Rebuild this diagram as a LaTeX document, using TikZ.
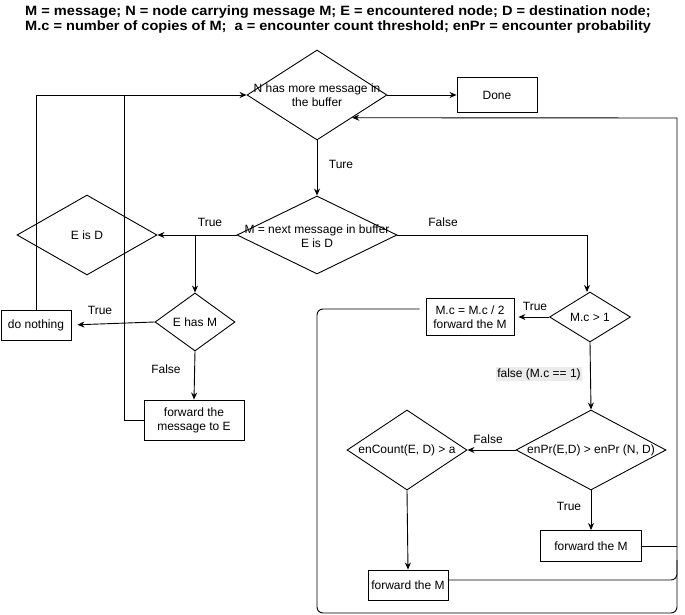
\documentclass[tikz,border=0pt]{standalone}
\usepackage{fontspec}
\setmainfont{Liberation Sans}
\usetikzlibrary{shapes.geometric,arrows.meta}
\begin{document}
\begin{tikzpicture}[x=1pt,y=-1pt,
  every node/.style={font=\fontsize{12}{14}\selectfont},
  dia/.style={draw, diamond, inner sep=0pt, line width=0.9pt},
  box/.style={draw, rectangle, inner sep=0pt, line width=0.9pt},
  txt/.style={align=center, inner sep=0pt},
  link/.style={line width=0.9pt},
  arr/.style={link, -{Stealth[length=7pt,width=6pt]}},
  lbl/.style={inner sep=1pt},
  head/.style={anchor=west, inner sep=0pt, xscale=1.08, transform shape,
    font=\bfseries\fontsize{13.5}{16}\selectfont}]
\useasboundingbox (0,0) rectangle (685,615);

% legend
\node[head] (title1) at (25,12) {M = message; N = node carrying message M; E = encountered node; D = destination node;};
\node[head] (title2) at (25,27) {M.c = number of copies of M;\ \ a = encounter count threshold; enPr = encounter probability};

% decisions
\node[dia, minimum width=140pt, minimum height=90pt] (d1) at (317,95) {};
\node[txt] (d1t) at (d1) {N has more message in\\the buffer};
\node[dia, minimum width=160pt, minimum height=78pt] (d2) at (317,235) {};
\node[txt] (d2t) at (317,236) {M = next message in buffer\\E is D};
\node[dia, minimum width=140pt, minimum height=80pt] (d3) at (87,235) {};
\node[txt] (d3t) at (d3) {E is D};
\node[dia, minimum width=80pt, minimum height=58pt] (d4) at (195,322) {};
\node[txt] (d4t) at (d4) {E has M};
\node[dia, minimum width=81pt, minimum height=50pt] (d5) at (590,317) {};
\node[txt] (d5t) at (d5) {M.c > 1};
\node[dia, minimum width=150pt, minimum height=80pt] (d6) at (591,450) {};
\node[txt] (d6t) at (d6) {enPr(E,D) > enPr (N, D)};
\node[dia, minimum width=120pt, minimum height=80pt] (d7) at (407,450) {};
\node[txt] (d7t) at (d7) {enCount(E, D) > a};

% actions
\node[box, minimum width=80pt, minimum height=35pt] (done) at (497,95) {Done};
\node[box, minimum width=70pt, minimum height=30pt] (nothing) at (36,325) {do nothing};
\node[box, minimum width=100pt, minimum height=40pt, align=center] (fwdE) at (194,420) {forward the\\message to E};
\node[box, minimum width=88pt, minimum height=37pt, align=center] (half) at (470,317) {M.c = M.c / 2\\forward the M};
\node[box, minimum width=101pt, minimum height=31pt] (fwdA) at (591,546) {forward the M};
\node[box, minimum width=80pt, minimum height=30pt] (fwdB) at (408,585) {forward the M};

% flow
\draw[arr] (d1.east) -- (done.west);
\draw[arr] (d1.south) -- (d2.north);
\draw[arr] (d2.west) -- (d3.east);
\draw[arr] (d4.north |- d2.west) -- (d4.north);
\draw[arr] (d2.east) -- (587,235) -- (587,292);
\draw[arr, shorten >=6pt] (d4.west) -- (nothing.east);
\draw[arr] (d4.south) -- (fwdE.north);
\draw[arr] (nothing.north) -- (36,95) -- (d1.west);
\draw[link] (fwdE.west) -- (124,420) -- (124,95);
\draw[arr, shorten >=4pt] (d5.west) -- (half.east);
\draw[arr] (d5.south) -- (d6.north);
\draw[arr] (d6.west) -- (d7.east);
\draw[arr] (d6.south) -- (fwdA.north);
\draw[arr] (d7.south) -- (fwdB.north);

% return loop to the buffer check
\draw[arr, rounded corners=6pt, shorten <=6pt] ([yshift=8pt]half.west) -- (317,309) -- (317,613) -- (677,613)
  [sharp corners] -- (677,118) -- (d1.south east);
\draw[link] (fwdA.east) -- (677,546);
\draw[link, rounded corners=6pt] ([yshift=5pt]fwdB.east) -- (677,580) -- (677,560);

% branch labels
\node[lbl] (l1) at (341,164) {Ture};
\node[lbl] (l2) at (210,222) {True};
\node[lbl] (l3) at (443,222) {False};
\node[lbl] (l4) at (100,310) {True};
\node[lbl] (l5) at (166,369) {False};
\node[lbl] (l6) at (535,306) {True};
\node[lbl, fill=black!8] (l7) at (539,374) {false (M.c == 1)};
\node[lbl] (l8) at (488,439) {False};
\node[lbl] (l9) at (569,506) {True};
\end{tikzpicture}
\end{document}
